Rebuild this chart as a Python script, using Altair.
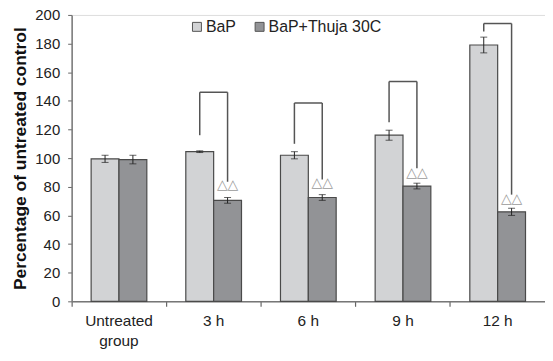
import altair as alt
import pandas as pd

cat_keys = ["Untreated", "3 h", "6 h", "9 h", "12 h"]
groups = ["BaP", "BaP+Thuja 30C"]
bap_vals = [99.5, 104.5, 102, 116, 179]
bap_err = [2.5, 0.6, 2.5, 3.5, 5.5]
thuja_vals = [99, 70.5, 72.5, 80.5, 62.5]
thuja_err = [3.0, 2.0, 2.0, 2.0, 2.5]

# significance brackets (for the four treated groups)
br_cats = ["3 h", "6 h", "9 h", "12 h"]
br_left_bottom = [116, 110, 125, 188.5]
br_top = [146, 138.5, 153.5, 194]
br_right_bottom = [83.5, 85, 93, 74.5]
tri_y = [76.5, 78, 85, 66.5]

rows = []
for i, c in enumerate(cat_keys):
    rows.append({"cat": c, "group": groups[0], "value": bap_vals[i],
                 "lo": bap_vals[i] - bap_err[i], "hi": bap_vals[i] + bap_err[i]})
    rows.append({"cat": c, "group": groups[1], "value": thuja_vals[i],
                 "lo": thuja_vals[i] - thuja_err[i], "hi": thuja_vals[i] + thuja_err[i]})
df = pd.DataFrame(rows)

br = pd.DataFrame({"cat": br_cats, "lb": br_left_bottom, "top": br_top,
                   "rb": br_right_bottom, "tri": tri_y, "sym": ["△△"] * 4})

FONT = "Liberation Sans"
label_expr = "datum.value == 'Untreated' ? ['Untreated', 'group'] : datum.value"

xscale = alt.Scale(domain=cat_keys, paddingInner=0, paddingOuter=0)
xaxis = alt.Axis(title=None, labelExpr=label_expr, labelAngle=0, labelFontSize=15.5,
                 labelFont=FONT, labelColor="#222", labelPadding=7, labelLineHeight=20,
                 bandPosition=0, tickSize=5, tickColor="#666", domainColor="#777",
                 domainWidth=1.5, tickWidth=1.2, labelBaseline="top")
yscale = alt.Scale(domain=[0, 200], nice=False)
yaxis = alt.Axis(title="Percentage of untreated control", values=list(range(0, 201, 20)),
                 titleFont=FONT, titleFontSize=17.5, titleFontWeight="bold", titleColor="#111",
                 titlePadding=5, labelFont=FONT, labelFontSize=15, labelColor="#222",
                 labelPadding=8, tickSize=4, tickColor="#666", domainColor="#777",
                 domainWidth=1.5, grid=False, labelOverlap=False)
offscale = alt.Scale(domain=groups, paddingOuter=0.7, paddingInner=0)


def X(**kw):
    return alt.X("cat:N", scale=xscale, axis=xaxis, sort=cat_keys, **kw)


def Y(field):
    return alt.Y(field, scale=yscale, axis=yaxis)


base = alt.Chart(df)

bars = base.mark_bar(stroke="#4a4a4a", strokeWidth=1.2).encode(
    x=X(),
    xOffset=alt.XOffset("group:N", scale=offscale),
    y=Y("value:Q"),
    fill=alt.Fill("group:N", scale=alt.Scale(domain=groups, range=["#d2d3d5", "#929396"]),
                  legend=alt.Legend(title=None, orient="none", legendX=118, legendY=4,
                                    direction="horizontal", symbolType="square",
                                    symbolSize=81, symbolStrokeColor="#555",
                                    symbolStrokeWidth=1, labelFont=FONT, labelFontSize=16,
                                    labelColor="#222", labelOffset=1, columnPadding=15)),
)

err = base.mark_rule(color="#222", strokeWidth=1).encode(
    x=X(), xOffset=alt.XOffset("group:N", scale=offscale),
    y=Y("lo:Q"), y2="hi:Q",
)
cap_lo = base.mark_tick(color="#222", thickness=1, size=7, orient="horizontal").encode(
    x=X(), xOffset=alt.XOffset("group:N", scale=offscale), y=Y("lo:Q"),
)
cap_hi = base.mark_tick(color="#222", thickness=1, size=7, orient="horizontal").encode(
    x=X(), xOffset=alt.XOffset("group:N", scale=offscale), y=Y("hi:Q"),
)

bbase = alt.Chart(br)
BL = 0.353
BR = 0.647
left_leg = bbase.mark_rule(color="#555", strokeWidth=1.5).encode(
    x=X(bandPosition=BL), y=Y("lb:Q"), y2="top:Q")
right_leg = bbase.mark_rule(color="#555", strokeWidth=1.5).encode(
    x=X(bandPosition=BR), y=Y("rb:Q"), y2="top:Q")
top_bar = bbase.mark_rule(color="#555", strokeWidth=1.5).encode(
    x=X(bandPosition=BL), x2=alt.X2("cat:N", bandPosition=BR), y=Y("top:Q"))
tris = bbase.mark_text(color="#9a9a9a", fontSize=14, baseline="bottom", font="DejaVu Sans").encode(
    x=X(bandPosition=BR), y=Y("tri:Q"), text="sym:N")

chart = alt.layer(bars, err, cap_lo, cap_hi, left_leg, right_leg, top_bar, tris).properties(
    width=476, height=288,
    autosize=alt.AutoSizeParams(type="none"),
    padding={"left": 64, "top": 6, "right": 0, "bottom": 51},
).configure_view(stroke=None).configure(background="white")

chart.save("out.html", embed_options={"renderer": "svg", "actions": False})
